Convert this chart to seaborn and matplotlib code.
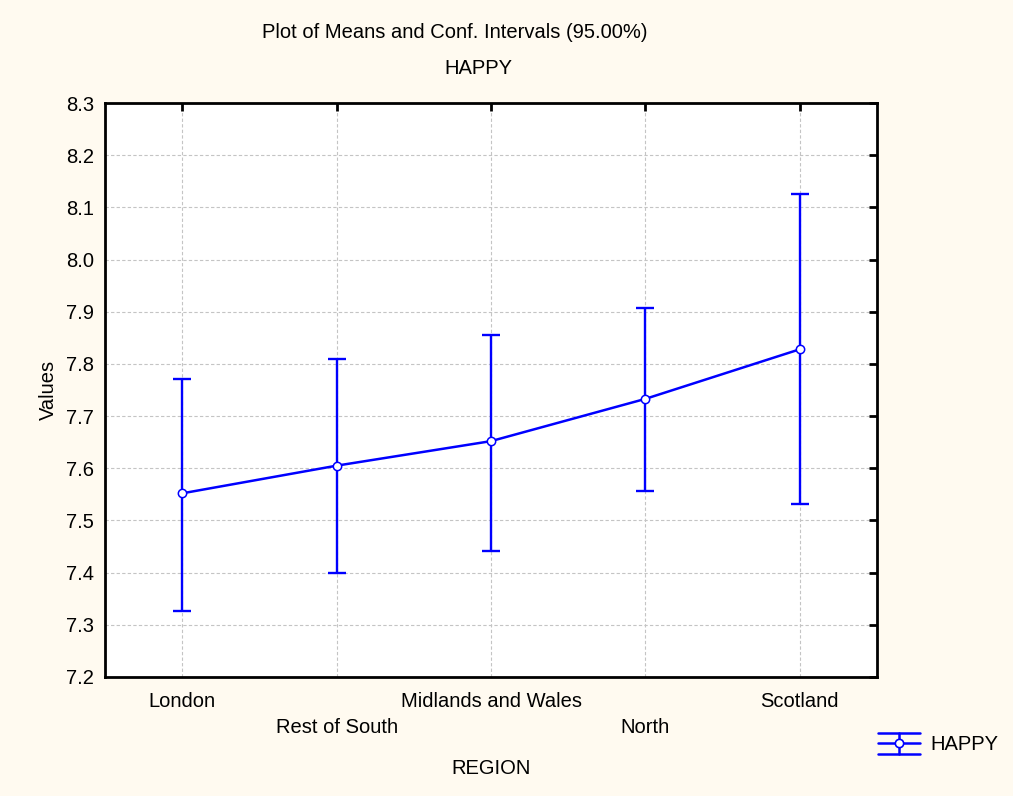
import numpy as np
import matplotlib
matplotlib.use('Agg')
import matplotlib.pyplot as plt
from matplotlib.lines import Line2D
from matplotlib.legend_handler import HandlerBase
import seaborn as sns

# data
regions = ['London', 'Rest of South', 'Midlands and Wales', 'North', 'Scotland']
means = np.array([7.552, 7.605, 7.652, 7.733, 7.828])
ci_low = np.array([7.326, 7.399, 7.442, 7.556, 7.532])
ci_high = np.array([7.772, 7.809, 7.855, 7.908, 8.126])
yticks = [7.2, 7.3, 7.4, 7.5, 7.6, 7.7, 7.8, 7.9, 8.0, 8.1, 8.2, 8.3]

sns.set_style('white')
plt.rcParams['font.family'] = ['Liberation Sans', 'DejaVu Sans']
bg = '#fffaf0'
blue = '#0000ff'
fs = 14.5


class HandlerMeanCI(HandlerBase):
    # three horizontal bars, a vertical bar and a hollow point
    def create_artists(self, legend, orig, xd, yd, w, h, fontsize, trans):
        cy = h / 2 - yd
        dy = h * 0.75
        arts = []
        for y in (cy - dy, cy, cy + dy):
            arts.append(Line2D([-xd, w - xd], [y, y], color=blue, lw=1.8))
        arts.append(Line2D([w / 2 - xd] * 2, [cy - dy, cy + dy], color=blue, lw=1.8))
        arts.append(Line2D([w / 2 - xd], [cy], marker='o', ms=6, mfc='white',
                           mec=blue, mew=1.2, color=blue))
        for a in arts:
            a.set_transform(trans)
        return arts


fig = plt.figure(figsize=(10.13, 7.96), dpi=100, facecolor=bg)
ax = fig.add_axes([0.1037, 0.1495, 0.762, 0.7211])
ax.set_facecolor('white')

# confidence intervals
ax.errorbar(np.arange(len(regions)), means,
            yerr=[means - ci_low, ci_high - means],
            fmt='none', ecolor=blue, elinewidth=1.7, capsize=6.5,
            capthick=1.7, zorder=3)

# mean line with hollow markers
sns.pointplot(x=regions, y=means, color=blue, ax=ax, errorbar=None,
              markers='o', linestyles='-', linewidth=1.8,
              markersize=6, markerfacecolor='white', markeredgecolor=blue,
              markeredgewidth=1.1, zorder=4)

ax.set_xlim(-0.5, len(regions) - 0.5)
ax.set_ylim(7.2, 8.3)
ax.set_yticks(yticks)
ax.set_yticklabels([f'{v:.1f}' for v in yticks])
ax.set_xticks(range(len(regions)))
labels = ax.set_xticklabels([r if i % 2 == 0 else '\n' + r for i, r in enumerate(regions)])
for i, lab in enumerate(labels):
    if i % 2 == 1:
        lab.set_linespacing(1.45)

ax.grid(True, color='#c4c4c4', linestyle=(0, (3, 2)), linewidth=0.8)
ax.set_axisbelow(True)
for s in ax.spines.values():
    s.set_color('black')
    s.set_linewidth(2)
ax.tick_params(direction='in', length=6, width=2, top=True, right=True,
               labelsize=fs, colors='black', labelcolor='black', pad=11)
ax.tick_params(axis='y', pad=8)

ax.set_xlabel('REGION', fontsize=fs, color='black', labelpad=16)
ax.set_ylabel('Values', fontsize=fs, color='black', labelpad=6)

fig.text(0.449, 1 - 33 / 796, 'Plot of Means and Conf. Intervals (95.00%)',
         ha='center', va='center', fontsize=fs, color='black')
fig.text(0.472, 1 - 68 / 796, 'HAPPY', ha='center', va='center',
         fontsize=fs, color='black')

fig.legend(handles=[Line2D([], [])], labels=['HAPPY'], loc='center left',
           bbox_to_anchor=(878 / 1013, 1 - 745 / 796), frameon=False,
           fontsize=fs, handlelength=2.1, handletextpad=0.5, borderaxespad=0,
           borderpad=0, handler_map={Line2D: HandlerMeanCI()}, labelcolor='black')

fig.savefig('out.png', dpi=100, facecolor=bg)
